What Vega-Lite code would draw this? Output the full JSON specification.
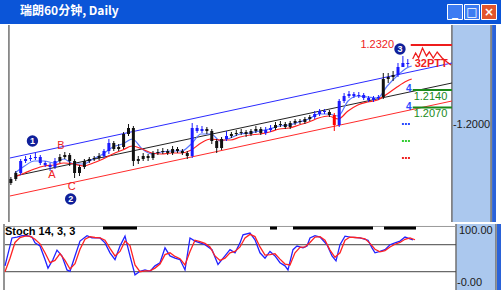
{
  "$schema": "https://vega.github.io/schema/vega-lite/v6.json",
  "padding": 0,
  "spacing": 0,
  "background": "white",
  "config": {"view": {"stroke": null}, "concat": {"spacing": 0}},
  "resolve": {"scale": {"x": "independent", "y": "independent", "color": "independent"}},
  "datasets": {
    "cd": [
      {"t":6,"o":1.1768,"c":1.1784,"h":1.1792,"l":1.1760,"k":"k"},
      {"t":11,"o":1.1784,"c":1.1808,"h":1.1816,"l":1.1776,"k":"k"},
      {"t":16,"o":1.1808,"c":1.1856,"h":1.1864,"l":1.1800,"k":"b"},
      {"t":21,"o":1.1856,"c":1.1864,"h":1.1876,"l":1.1848,"k":"b"},
      {"t":26,"o":1.1864,"c":1.1868,"h":1.1880,"l":1.1856,"k":"b"},
      {"t":31,"o":1.1868,"c":1.1872,"h":1.1888,"l":1.1860,"k":"b"},
      {"t":36,"o":1.1872,"c":1.1848,"h":1.1880,"l":1.1840,"k":"b"},
      {"t":41,"o":1.1848,"c":1.1840,"h":1.1856,"l":1.1832,"k":"b"},
      {"t":46,"o":1.1840,"c":1.1832,"h":1.1848,"l":1.1816,"k":"b"},
      {"t":51,"o":1.1832,"c":1.1856,"h":1.1868,"l":1.1824,"k":"b"},
      {"t":56,"o":1.1856,"c":1.1872,"h":1.1884,"l":1.1848,"k":"k"},
      {"t":61,"o":1.1872,"c":1.1880,"h":1.1892,"l":1.1864,"k":"k"},
      {"t":66,"o":1.1880,"c":1.1856,"h":1.1888,"l":1.1836,"k":"k"},
      {"t":71,"o":1.1856,"c":1.1808,"h":1.1864,"l":1.1788,"k":"k"},
      {"t":76,"o":1.1808,"c":1.1832,"h":1.1840,"l":1.1796,"k":"k"},
      {"t":81,"o":1.1832,"c":1.1856,"h":1.1864,"l":1.1824,"k":"k"},
      {"t":86,"o":1.1856,"c":1.1864,"h":1.1872,"l":1.1848,"k":"k"},
      {"t":91,"o":1.1864,"c":1.1868,"h":1.1876,"l":1.1856,"k":"k"},
      {"t":96,"o":1.1868,"c":1.1876,"h":1.1888,"l":1.1860,"k":"k"},
      {"t":101,"o":1.1876,"c":1.1896,"h":1.1904,"l":1.1868,"k":"b"},
      {"t":106,"o":1.1896,"c":1.1928,"h":1.1944,"l":1.1884,"k":"b"},
      {"t":111,"o":1.1928,"c":1.1904,"h":1.1936,"l":1.1896,"k":"k"},
      {"t":116,"o":1.1904,"c":1.1912,"h":1.1924,"l":1.1896,"k":"k"},
      {"t":121,"o":1.1912,"c":1.1964,"h":1.1972,"l":1.1904,"k":"k"},
      {"t":126,"o":1.1964,"c":1.1988,"h":1.2004,"l":1.1956,"k":"k"},
      {"t":131,"o":1.1988,"c":1.1856,"h":1.1996,"l":1.1836,"k":"k"},
      {"t":136,"o":1.1856,"c":1.1864,"h":1.1876,"l":1.1844,"k":"k"},
      {"t":141,"o":1.1864,"c":1.1876,"h":1.1888,"l":1.1856,"k":"k"},
      {"t":146,"o":1.1876,"c":1.1868,"h":1.1884,"l":1.1856,"k":"k"},
      {"t":151,"o":1.1868,"c":1.1888,"h":1.1896,"l":1.1860,"k":"k"},
      {"t":156,"o":1.1888,"c":1.1892,"h":1.1904,"l":1.1880,"k":"k"},
      {"t":161,"o":1.1892,"c":1.1896,"h":1.1908,"l":1.1884,"k":"k"},
      {"t":166,"o":1.1896,"c":1.1888,"h":1.1904,"l":1.1880,"k":"k"},
      {"t":171,"o":1.1888,"c":1.1904,"h":1.1916,"l":1.1880,"k":"k"},
      {"t":176,"o":1.1904,"c":1.1896,"h":1.1912,"l":1.1888,"k":"k"},
      {"t":181,"o":1.1896,"c":1.1888,"h":1.1904,"l":1.1880,"k":"k"},
      {"t":186,"o":1.1888,"c":1.1876,"h":1.1896,"l":1.1864,"k":"k"},
      {"t":191,"o":1.1876,"c":1.1988,"h":1.2008,"l":1.1868,"k":"b"},
      {"t":196,"o":1.1988,"c":1.1976,"h":1.2000,"l":1.1968,"k":"b"},
      {"t":201,"o":1.1976,"c":1.1984,"h":1.1996,"l":1.1968,"k":"b"},
      {"t":206,"o":1.1984,"c":1.1976,"h":1.1992,"l":1.1964,"k":"k"},
      {"t":211,"o":1.1976,"c":1.1936,"h":1.1984,"l":1.1924,"k":"k"},
      {"t":216,"o":1.1936,"c":1.1908,"h":1.1944,"l":1.1888,"k":"k"},
      {"t":221,"o":1.1908,"c":1.1944,"h":1.1952,"l":1.1900,"k":"k"},
      {"t":226,"o":1.1944,"c":1.1956,"h":1.1976,"l":1.1936,"k":"b"},
      {"t":231,"o":1.1956,"c":1.1964,"h":1.1972,"l":1.1948,"k":"k"},
      {"t":236,"o":1.1964,"c":1.1968,"h":1.1980,"l":1.1956,"k":"k"},
      {"t":241,"o":1.1968,"c":1.1972,"h":1.1984,"l":1.1960,"k":"k"},
      {"t":246,"o":1.1972,"c":1.1964,"h":1.1980,"l":1.1952,"k":"k"},
      {"t":251,"o":1.1964,"c":1.1976,"h":1.1984,"l":1.1956,"k":"k"},
      {"t":256,"o":1.1976,"c":1.1984,"h":1.1996,"l":1.1968,"k":"k"},
      {"t":261,"o":1.1984,"c":1.1968,"h":1.1992,"l":1.1960,"k":"k"},
      {"t":266,"o":1.1968,"c":1.1980,"h":1.1992,"l":1.1960,"k":"b"},
      {"t":271,"o":1.1980,"c":1.1988,"h":1.2000,"l":1.1972,"k":"b"},
      {"t":276,"o":1.1988,"c":1.2000,"h":1.2012,"l":1.1980,"k":"k"},
      {"t":281,"o":1.2000,"c":1.2004,"h":1.2016,"l":1.1992,"k":"k"},
      {"t":286,"o":1.2004,"c":1.1992,"h":1.2012,"l":1.1984,"k":"k"},
      {"t":291,"o":1.1992,"c":1.2008,"h":1.2016,"l":1.1984,"k":"k"},
      {"t":296,"o":1.2008,"c":1.2016,"h":1.2024,"l":1.2000,"k":"k"},
      {"t":301,"o":1.2016,"c":1.2012,"h":1.2024,"l":1.2004,"k":"k"},
      {"t":306,"o":1.2012,"c":1.2024,"h":1.2032,"l":1.2004,"k":"k"},
      {"t":311,"o":1.2024,"c":1.2032,"h":1.2040,"l":1.2016,"k":"k"},
      {"t":316,"o":1.2032,"c":1.2044,"h":1.2056,"l":1.2024,"k":"b"},
      {"t":321,"o":1.2044,"c":1.2056,"h":1.2064,"l":1.2036,"k":"b"},
      {"t":326,"o":1.2056,"c":1.2052,"h":1.2064,"l":1.2044,"k":"b"},
      {"t":331,"o":1.2052,"c":1.2040,"h":1.2060,"l":1.2032,"k":"k"},
      {"t":336,"o":1.2040,"c":1.2000,"h":1.2048,"l":1.1976,"k":"r"},
      {"t":341,"o":1.2000,"c":1.2096,"h":1.2104,"l":1.1992,"k":"b"},
      {"t":346,"o":1.2096,"c":1.2116,"h":1.2128,"l":1.2088,"k":"b"},
      {"t":351,"o":1.2116,"c":1.2124,"h":1.2136,"l":1.2108,"k":"b"},
      {"t":356,"o":1.2124,"c":1.2116,"h":1.2132,"l":1.2108,"k":"b"},
      {"t":361,"o":1.2116,"c":1.2120,"h":1.2132,"l":1.2108,"k":"b"},
      {"t":366,"o":1.2120,"c":1.2108,"h":1.2128,"l":1.2100,"k":"b"},
      {"t":371,"o":1.2108,"c":1.2100,"h":1.2116,"l":1.2092,"k":"b"},
      {"t":376,"o":1.2100,"c":1.2108,"h":1.2116,"l":1.2092,"k":"b"},
      {"t":381,"o":1.2108,"c":1.2112,"h":1.2120,"l":1.2100,"k":"b"},
      {"t":386,"o":1.2112,"c":1.2184,"h":1.2208,"l":1.2104,"k":"k"},
      {"t":391,"o":1.2184,"c":1.2192,"h":1.2208,"l":1.2168,"k":"k"},
      {"t":396,"o":1.2192,"c":1.2200,"h":1.2216,"l":1.2176,"k":"k"},
      {"t":401,"o":1.2200,"c":1.2232,"h":1.2248,"l":1.2192,"k":"b"},
      {"t":406,"o":1.2232,"c":1.2248,"h":1.2276,"l":1.2232,"k":"b"},
      {"t":411,"o":1.2248,"c":1.2244,"h":1.2264,"l":1.2232,"k":"b"}
    ],
    "ma": [
      {"s":"f","t":10,"p":1.1808},{"s":"f","t":20,"p":1.1836},{"s":"f","t":30,"p":1.1856},{"s":"f","t":40,"p":1.1856},{"s":"f","t":50,"p":1.1848},{"s":"f","t":60,"p":1.1864},{"s":"f","t":70,"p":1.1844},{"s":"f","t":80,"p":1.1844},{"s":"f","t":90,"p":1.1864},{"s":"f","t":100,"p":1.1884},{"s":"f","t":110,"p":1.1912},{"s":"f","t":120,"p":1.1924},{"s":"f","t":130,"p":1.1944},{"s":"f","t":140,"p":1.1904},{"s":"f","t":150,"p":1.1884},{"s":"f","t":160,"p":1.1892},{"s":"f","t":170,"p":1.1896},{"s":"f","t":180,"p":1.1896},{"s":"f","t":190,"p":1.1924},{"s":"f","t":200,"p":1.1964},{"s":"f","t":210,"p":1.1964},{"s":"f","t":220,"p":1.1936},{"s":"f","t":230,"p":1.1948},{"s":"f","t":240,"p":1.1964},{"s":"f","t":250,"p":1.1968},{"s":"f","t":260,"p":1.1976},{"s":"f","t":270,"p":1.1984},{"s":"f","t":280,"p":1.1996},{"s":"f","t":290,"p":1.2000},{"s":"f","t":300,"p":1.2012},{"s":"f","t":310,"p":1.2024},{"s":"f","t":320,"p":1.2044},{"s":"f","t":330,"p":1.2044},{"s":"f","t":340,"p":1.2036},{"s":"f","t":350,"p":1.2096},{"s":"f","t":360,"p":1.2116},{"s":"f","t":370,"p":1.2112},{"s":"f","t":380,"p":1.2108},{"s":"f","t":390,"p":1.2156},{"s":"f","t":400,"p":1.2196},{"s":"f","t":410,"p":1.2228},{"s":"f","t":415,"p":1.2236},
      {"s":"s","t":10,"p":1.1792},{"s":"s","t":20,"p":1.1808},{"s":"s","t":30,"p":1.1824},{"s":"s","t":40,"p":1.1836},{"s":"s","t":50,"p":1.1840},{"s":"s","t":60,"p":1.1848},{"s":"s","t":70,"p":1.1844},{"s":"s","t":80,"p":1.1836},{"s":"s","t":90,"p":1.1848},{"s":"s","t":100,"p":1.1864},{"s":"s","t":110,"p":1.1884},{"s":"s","t":120,"p":1.1900},{"s":"s","t":130,"p":1.1916},{"s":"s","t":140,"p":1.1904},{"s":"s","t":150,"p":1.1888},{"s":"s","t":160,"p":1.1884},{"s":"s","t":170,"p":1.1888},{"s":"s","t":180,"p":1.1888},{"s":"s","t":190,"p":1.1900},{"s":"s","t":200,"p":1.1928},{"s":"s","t":210,"p":1.1944},{"s":"s","t":220,"p":1.1940},{"s":"s","t":230,"p":1.1940},{"s":"s","t":240,"p":1.1952},{"s":"s","t":250,"p":1.1960},{"s":"s","t":260,"p":1.1964},{"s":"s","t":270,"p":1.1972},{"s":"s","t":280,"p":1.1984},{"s":"s","t":290,"p":1.1988},{"s":"s","t":300,"p":1.2000},{"s":"s","t":310,"p":1.2012},{"s":"s","t":320,"p":1.2028},{"s":"s","t":330,"p":1.2036},{"s":"s","t":340,"p":1.2024},{"s":"s","t":350,"p":1.2056},{"s":"s","t":360,"p":1.2080},{"s":"s","t":370,"p":1.2092},{"s":"s","t":380,"p":1.2100},{"s":"s","t":390,"p":1.2124},{"s":"s","t":400,"p":1.2152},{"s":"s","t":410,"p":1.2176},{"s":"s","t":415,"p":1.2184}
    ],
    "ln": [
      {"g":"bch","t":5,"p":1.1868},{"g":"bch","t":456,"p":1.2248},
      {"g":"rch","t":5,"p":1.1716},{"g":"rch","t":456,"p":1.2096},
      {"g":"kch","t":10,"p":1.1796},{"g":"kch","t":456,"p":1.2168}
    ],
    "lv": [
      {"g":"r","a":414,"b":456,"p":1.232},
      {"g":"g","a":416,"b":456,"p":1.214},
      {"g":"g","a":416,"b":456,"p":1.207}
    ],
    "stk": [
      {"s":"k","t":5,"v":33},{"s":"k","t":12,"v":95},{"s":"k","t":17,"v":97},{"s":"k","t":22,"v":100},{"s":"k","t":27,"v":100},{"s":"k","t":32,"v":97},{"s":"k","t":35,"v":84},{"s":"k","t":40,"v":77},{"s":"k","t":45,"v":47},{"s":"k","t":48,"v":28},{"s":"k","t":53,"v":47},{"s":"k","t":57,"v":68},{"s":"k","t":62,"v":55},{"s":"k","t":67,"v":24},{"s":"k","t":70,"v":21},{"s":"k","t":75,"v":55},{"s":"k","t":80,"v":88},{"s":"k","t":87,"v":100},{"s":"k","t":92,"v":95},{"s":"k","t":100,"v":95},{"s":"k","t":105,"v":84},{"s":"k","t":110,"v":62},{"s":"k","t":115,"v":47},{"s":"k","t":120,"v":77},{"s":"k","t":125,"v":99},{"s":"k","t":130,"v":55},{"s":"k","t":135,"v":13},{"s":"k","t":140,"v":21},{"s":"k","t":145,"v":24},{"s":"k","t":150,"v":21},{"s":"k","t":155,"v":33},{"s":"k","t":160,"v":40},{"s":"k","t":165,"v":73},{"s":"k","t":170,"v":55},{"s":"k","t":175,"v":50},{"s":"k","t":180,"v":47},{"s":"k","t":185,"v":24},{"s":"k","t":190,"v":95},{"s":"k","t":195,"v":88},{"s":"k","t":205,"v":80},{"s":"k","t":212,"v":69},{"s":"k","t":218,"v":36},{"s":"k","t":225,"v":55},{"s":"k","t":230,"v":69},{"s":"k","t":235,"v":62},{"s":"k","t":240,"v":84},{"s":"k","t":243,"v":102},{"s":"k","t":250,"v":106},{"s":"k","t":255,"v":91},{"s":"k","t":260,"v":62},{"s":"k","t":265,"v":50},{"s":"k","t":270,"v":65},{"s":"k","t":275,"v":55},{"s":"k","t":280,"v":40},{"s":"k","t":285,"v":33},{"s":"k","t":288,"v":24},{"s":"k","t":293,"v":69},{"s":"k","t":297,"v":77},{"s":"k","t":303,"v":73},{"s":"k","t":307,"v":77},{"s":"k","t":310,"v":95},{"s":"k","t":315,"v":100},{"s":"k","t":320,"v":97},{"s":"k","t":327,"v":80},{"s":"k","t":332,"v":55},{"s":"k","t":336,"v":44},{"s":"k","t":340,"v":80},{"s":"k","t":345,"v":99},{"s":"k","t":350,"v":97},{"s":"k","t":360,"v":95},{"s":"k","t":368,"v":90},{"s":"k","t":372,"v":73},{"s":"k","t":375,"v":62},{"s":"k","t":380,"v":65},{"s":"k","t":385,"v":69},{"s":"k","t":390,"v":80},{"s":"k","t":395,"v":84},{"s":"k","t":400,"v":88},{"s":"k","t":405,"v":97},{"s":"k","t":410,"v":93},{"s":"k","t":413,"v":91},
      {"s":"d","t":5,"v":20},{"s":"d","t":10,"v":50},{"s":"d","t":15,"v":85},{"s":"d","t":20,"v":96},{"s":"d","t":25,"v":99},{"s":"d","t":30,"v":99},{"s":"d","t":35,"v":92},{"s":"d","t":40,"v":82},{"s":"d","t":45,"v":62},{"s":"d","t":50,"v":40},{"s":"d","t":55,"v":45},{"s":"d","t":60,"v":60},{"s":"d","t":65,"v":45},{"s":"d","t":70,"v":26},{"s":"d","t":75,"v":38},{"s":"d","t":80,"v":70},{"s":"d","t":85,"v":92},{"s":"d","t":90,"v":98},{"s":"d","t":95,"v":96},{"s":"d","t":100,"v":95},{"s":"d","t":105,"v":90},{"s":"d","t":110,"v":72},{"s":"d","t":115,"v":55},{"s":"d","t":120,"v":65},{"s":"d","t":125,"v":88},{"s":"d","t":130,"v":78},{"s":"d","t":135,"v":35},{"s":"d","t":140,"v":20},{"s":"d","t":145,"v":22},{"s":"d","t":150,"v":22},{"s":"d","t":155,"v":28},{"s":"d","t":160,"v":37},{"s":"d","t":165,"v":58},{"s":"d","t":170,"v":62},{"s":"d","t":175,"v":54},{"s":"d","t":180,"v":49},{"s":"d","t":185,"v":35},{"s":"d","t":190,"v":65},{"s":"d","t":195,"v":90},{"s":"d","t":200,"v":87},{"s":"d","t":205,"v":83},{"s":"d","t":210,"v":75},{"s":"d","t":215,"v":55},{"s":"d","t":220,"v":45},{"s":"d","t":225,"v":50},{"s":"d","t":230,"v":62},{"s":"d","t":235,"v":65},{"s":"d","t":240,"v":75},{"s":"d","t":245,"v":95},{"s":"d","t":250,"v":103},{"s":"d","t":255,"v":98},{"s":"d","t":260,"v":75},{"s":"d","t":265,"v":57},{"s":"d","t":270,"v":58},{"s":"d","t":275,"v":60},{"s":"d","t":280,"v":48},{"s":"d","t":285,"v":37},{"s":"d","t":290,"v":35},{"s":"d","t":295,"v":62},{"s":"d","t":300,"v":74},{"s":"d","t":305,"v":75},{"s":"d","t":310,"v":85},{"s":"d","t":315,"v":97},{"s":"d","t":320,"v":98},{"s":"d","t":325,"v":90},{"s":"d","t":330,"v":68},{"s":"d","t":335,"v":52},{"s":"d","t":340,"v":62},{"s":"d","t":345,"v":90},{"s":"d","t":350,"v":97},{"s":"d","t":355,"v":96},{"s":"d","t":360,"v":95},{"s":"d","t":365,"v":93},{"s":"d","t":370,"v":83},{"s":"d","t":375,"v":70},{"s":"d","t":380,"v":64},{"s":"d","t":385,"v":67},{"s":"d","t":390,"v":75},{"s":"d","t":395,"v":81},{"s":"d","t":400,"v":85},{"s":"d","t":405,"v":92},{"s":"d","t":410,"v":95},{"s":"d","t":415,"v":91}
    ]
  },
  "vconcat": [
    {
      "width": 501, "height": 24,
      "view": {"fill": "#0b55d8", "stroke": null},
      "title": {"text": "瑞朗60分钟, Daily", "anchor": "start", "offset": -18, "dx": 20, "color": "white", "fontSize": 12, "fontWeight": "bold", "font": "Noto Sans CJK SC"},
      "data": {"values": [{"btn": "min", "g": "_"}, {"btn": "max", "g": "□"}, {"btn": "close", "g": "×"}]},
      "resolve": {"scale": {"color": "independent"}},
      "layer": [
        {"mark": {"type": "point", "shape": "square", "filled": true, "size": 225, "stroke": "white", "strokeWidth": 1, "opacity": 1},
         "encoding": {
           "x": {"field": "btn", "type": "nominal", "scale": {"domain": ["min", "max", "close"], "range": [455, 489], "padding": 0}, "axis": null},
           "color": {"field": "btn", "type": "nominal", "scale": {"domain": ["min", "max", "close"], "range": ["#3d7cf2", "#3d7cf2", "#e2552c"]}, "legend": null}}},
        {"mark": {"type": "text", "color": "white", "fontWeight": "bold", "fontSize": 12, "font": "DejaVu Sans"},
         "encoding": {
           "x": {"field": "btn", "type": "nominal", "scale": {"domain": ["min", "max", "close"], "range": [455, 489], "padding": 0}, "axis": null},
           "text": {"field": "g"}}}
      ]
    },
    {
      "width": 501, "height": 197,
      "resolve": {"scale": {"color": "independent"}},
      "layer": [
        {"data": {"values": [{"a": 456, "b": 496}]}, "mark": {"type": "rect", "color": "#abc8ee"},
         "encoding": {"x": {"field": "a", "type": "quantitative", "scale": {"domain": [0, 501], "nice": false, "zero": false}, "axis": null}, "x2": {"field": "b"}}},
        {"data": {"values": [{"a": 497, "b": 501}]}, "mark": {"type": "rect", "color": "#2a62d8"},
         "encoding": {"x": {"field": "a", "type": "quantitative", "scale": {"domain": [0, 501], "nice": false, "zero": false}, "axis": null}, "x2": {"field": "b"}}},
        {"data": {"values": [{"a": 4}, {"a": 456}, {"a": 496}]}, "mark": {"type": "rule", "color": "#707070", "strokeWidth": 1.5},
         "encoding": {"x": {"field": "a", "type": "quantitative", "scale": {"domain": [0, 501], "nice": false, "zero": false}, "axis": null}}},
        {"data": {"name": "ln"}, "mark": {"type": "line", "strokeWidth": 1},
         "encoding": {
           "x": {"field": "t", "type": "quantitative", "scale": {"domain": [0, 501], "nice": false, "zero": false}, "axis": null},
           "y": {"field": "p", "type": "quantitative", "scale": {"domain": [1.1612, 1.24], "nice": false, "zero": false}, "axis": null},
           "color": {"field": "g", "type": "nominal", "scale": {"domain": ["bch", "rch", "kch"], "range": ["#2b2bff", "#ff2b2b", "#222222"]}, "legend": null}}},
        {"data": {"name": "ma"}, "mark": {"type": "line", "strokeWidth": 1.2, "interpolate": "monotone"},
         "encoding": {
           "x": {"field": "t", "type": "quantitative", "scale": {"domain": [0, 501], "nice": false, "zero": false}, "axis": null},
           "y": {"field": "p", "type": "quantitative", "scale": {"domain": [1.1612, 1.24], "nice": false, "zero": false}, "axis": null},
           "color": {"field": "s", "type": "nominal", "scale": {"domain": ["f", "s"], "range": ["#5a78ff", "#ff2020"]}, "legend": null}}},
        {"data": {"name": "cd"}, "mark": {"type": "rule", "strokeWidth": 1},
         "encoding": {
           "x": {"field": "t", "type": "quantitative", "scale": {"domain": [0, 501], "nice": false, "zero": false}, "axis": null},
           "y": {"field": "l", "type": "quantitative", "scale": {"domain": [1.1612, 1.24], "nice": false, "zero": false}, "axis": null},
           "y2": {"field": "h"},
           "color": {"field": "k", "type": "nominal", "scale": {"domain": ["k", "b", "r"], "range": ["#111111", "#1a1aff", "#ff0000"]}, "legend": null}}},
        {"data": {"name": "cd"}, "mark": {"type": "bar", "size": 3},
         "encoding": {
           "x": {"field": "t", "type": "quantitative", "scale": {"domain": [0, 501], "nice": false, "zero": false}, "axis": null},
           "y": {"field": "o", "type": "quantitative", "scale": {"domain": [1.1612, 1.24], "nice": false, "zero": false}, "axis": null},
           "y2": {"field": "c"},
           "color": {"field": "k", "type": "nominal", "scale": {"domain": ["k", "b", "r"], "range": ["#111111", "#1a1aff", "#ff0000"]}, "legend": null}}},
        {"data": {"name": "lv"}, "mark": {"type": "rule", "strokeWidth": 2},
         "encoding": {
           "x": {"field": "a", "type": "quantitative", "scale": {"domain": [0, 501], "nice": false, "zero": false}, "axis": null},
           "x2": {"field": "b"},
           "y": {"field": "p", "type": "quantitative", "scale": {"domain": [1.1612, 1.24], "nice": false, "zero": false}, "axis": null},
           "color": {"field": "g", "type": "nominal", "scale": {"domain": ["r", "g"], "range": ["#ee1c1c", "#1a8a1a"]}, "legend": null}}},
        {"data": {"values": [{"g": "b", "a": 405, "b": 414, "p": 1.2004}, {"g": "g", "a": 405, "b": 414, "p": 1.1936}, {"g": "r", "a": 405, "b": 414, "p": 1.1868}]},
         "mark": {"type": "rule", "strokeWidth": 2, "strokeDash": [2, 1]},
         "encoding": {
           "x": {"field": "a", "type": "quantitative", "scale": {"domain": [0, 501], "nice": false, "zero": false}, "axis": null},
           "x2": {"field": "b"},
           "y": {"field": "p", "type": "quantitative", "scale": {"domain": [1.1612, 1.24], "nice": false, "zero": false}, "axis": null},
           "color": {"field": "g", "type": "nominal", "scale": {"domain": ["b", "g", "r"], "range": ["#2b4bff", "#33cc33", "#ee2222"]}, "legend": null}}},
        {"data": {"values": [{"t": 416, "p": 1.2264}, {"t": 419, "p": 1.2288}, {"t": 422, "p": 1.2268}, {"t": 426, "p": 1.2308}, {"t": 430, "p": 1.2276}, {"t": 433, "p": 1.2292}, {"t": 437, "p": 1.2268}, {"t": 441, "p": 1.2292}, {"t": 446, "p": 1.2268}, {"t": 451, "p": 1.2252}, {"t": 455, "p": 1.224}]},
         "mark": {"type": "line", "color": "#ee1c1c", "strokeWidth": 1.3},
         "encoding": {
           "x": {"field": "t", "type": "quantitative", "scale": {"domain": [0, 501], "nice": false, "zero": false}, "axis": null},
           "y": {"field": "p", "type": "quantitative", "scale": {"domain": [1.1612, 1.24], "nice": false, "zero": false}, "axis": null}}},
        {"data": {"values": [{"t": 28, "p": 1.1936, "s": "1"}, {"t": 67, "p": 1.1704, "s": "2"}, {"t": 403, "p": 1.2304, "s": "3"}]},
         "layer": [
           {"mark": {"type": "point", "shape": "circle", "filled": true, "size": 130, "color": "#10209a", "opacity": 1},
            "encoding": {
              "x": {"field": "t", "type": "quantitative", "scale": {"domain": [0, 501], "nice": false, "zero": false}, "axis": null},
              "y": {"field": "p", "type": "quantitative", "scale": {"domain": [1.1612, 1.24], "nice": false, "zero": false}, "axis": null}}},
           {"mark": {"type": "text", "color": "white", "fontWeight": "bold", "fontSize": 9, "font": "Liberation Sans"},
            "encoding": {
              "x": {"field": "t", "type": "quantitative", "scale": {"domain": [0, 501], "nice": false, "zero": false}, "axis": null},
              "y": {"field": "p", "type": "quantitative", "scale": {"domain": [1.1612, 1.24], "nice": false, "zero": false}, "axis": null},
              "text": {"field": "s"}}}
         ]},
        {"data": {"values": [{"t": 57, "p": 1.1916, "s": "B"}, {"t": 48, "p": 1.18, "s": "A"}, {"t": 68, "p": 1.1752, "s": "C"}]},
         "mark": {"type": "text", "color": "#ee2222", "fontSize": 11, "font": "Liberation Sans"},
         "encoding": {
           "x": {"field": "t", "type": "quantitative", "scale": {"domain": [0, 501], "nice": false, "zero": false}, "axis": null},
           "y": {"field": "p", "type": "quantitative", "scale": {"domain": [1.1612, 1.24], "nice": false, "zero": false}, "axis": null},
           "text": {"field": "s"}}},
        {"data": {"values": [{"t": 397, "p": 1.232, "s": "1.2320"}]},
         "mark": {"type": "text", "color": "#ee1c1c", "fontSize": 11, "font": "Liberation Sans", "align": "right"},
         "encoding": {
           "x": {"field": "t", "type": "quantitative", "scale": {"domain": [0, 501], "nice": false, "zero": false}, "axis": null},
           "y": {"field": "p", "type": "quantitative", "scale": {"domain": [1.1612, 1.24], "nice": false, "zero": false}, "axis": null},
           "text": {"field": "s"}}},
        {"data": {"values": [{"t": 418, "p": 1.2244, "s": "32PTT"}]},
         "mark": {"type": "text", "color": "#ee1c1c", "fontSize": 11, "fontWeight": "bold", "font": "Liberation Sans", "align": "left"},
         "encoding": {
           "x": {"field": "t", "type": "quantitative", "scale": {"domain": [0, 501], "nice": false, "zero": false}, "axis": null},
           "y": {"field": "p", "type": "quantitative", "scale": {"domain": [1.1612, 1.24], "nice": false, "zero": false}, "axis": null},
           "text": {"field": "s"}}},
        {"data": {"values": [{"t": 417, "p": 1.2112, "s": "1.2140"}, {"t": 417, "p": 1.2044, "s": "1.2070"}]},
         "mark": {"type": "text", "color": "#1a8a1a", "fontSize": 11, "font": "Liberation Sans", "align": "left"},
         "encoding": {
           "x": {"field": "t", "type": "quantitative", "scale": {"domain": [0, 501], "nice": false, "zero": false}, "axis": null},
           "y": {"field": "p", "type": "quantitative", "scale": {"domain": [1.1612, 1.24], "nice": false, "zero": false}, "axis": null},
           "text": {"field": "s"}}},
        {"data": {"values": [{"t": 412, "p": 1.2144, "s": "4"}, {"t": 412, "p": 1.2072, "s": "4"}]},
         "mark": {"type": "text", "color": "#2b4bff", "fontSize": 10, "fontWeight": "bold", "font": "Liberation Sans"},
         "encoding": {
           "x": {"field": "t", "type": "quantitative", "scale": {"domain": [0, 501], "nice": false, "zero": false}, "axis": null},
           "y": {"field": "p", "type": "quantitative", "scale": {"domain": [1.1612, 1.24], "nice": false, "zero": false}, "axis": null},
           "text": {"field": "s"}}},
        {"data": {"values": [{"t": 457, "p": 1.2, "s": "-1.2000"}]},
         "mark": {"type": "text", "color": "#1a1a1a", "fontSize": 11, "font": "Liberation Sans", "align": "left"},
         "encoding": {
           "x": {"field": "t", "type": "quantitative", "scale": {"domain": [0, 501], "nice": false, "zero": false}, "axis": null},
           "y": {"field": "p", "type": "quantitative", "scale": {"domain": [1.1612, 1.24], "nice": false, "zero": false}, "axis": null},
           "text": {"field": "s"}}}
      ]
    },
    {
      "width": 501, "height": 69,
      "resolve": {"scale": {"color": "independent"}},
      "layer": [
        {"data": {"values": [{"a": 456, "b": 496}]}, "mark": {"type": "rect", "color": "#abc8ee"},
         "encoding": {"x": {"field": "a", "type": "quantitative", "scale": {"domain": [0, 501], "nice": false, "zero": false}, "axis": null}, "x2": {"field": "b"}}},
        {"data": {"values": [{"a": 497, "b": 501}]}, "mark": {"type": "rect", "color": "#2a62d8"},
         "encoding": {"x": {"field": "a", "type": "quantitative", "scale": {"domain": [0, 501], "nice": false, "zero": false}, "axis": null}, "x2": {"field": "b"}}},
        {"data": {"values": [{"a": 4}, {"a": 456}, {"a": 496}]}, "mark": {"type": "rule", "color": "#707070", "strokeWidth": 1.5},
         "encoding": {"x": {"field": "a", "type": "quantitative", "scale": {"domain": [0, 501], "nice": false, "zero": false}, "axis": null}}},
        {"data": {"values": [{"v": 120.5, "g": "b"}, {"v": 80, "g": "m"}, {"v": 20, "g": "m"}]},
         "mark": {"type": "rule", "strokeWidth": 1},
         "encoding": {
           "x": {"datum": 5, "type": "quantitative", "scale": {"domain": [0, 501], "nice": false, "zero": false}, "axis": null},
           "x2": {"datum": 456},
           "y": {"field": "v", "type": "quantitative", "scale": {"domain": [-27.3, 126], "nice": false, "zero": false}, "axis": null},
           "color": {"field": "g", "type": "nominal", "scale": {"domain": ["b", "m"], "range": ["#9a9a9a", "#444444"]}, "legend": null}}},
        {"data": {"values": [{"a": 103, "b": 137}, {"a": 270, "b": 277}, {"a": 293, "b": 373}, {"a": 384, "b": 416}]},
         "mark": {"type": "rule", "strokeWidth": 3, "color": "#000000"},
         "encoding": {
           "x": {"field": "a", "type": "quantitative", "scale": {"domain": [0, 501], "nice": false, "zero": false}, "axis": null},
           "x2": {"field": "b"},
           "y": {"datum": 117, "type": "quantitative", "scale": {"domain": [-27.3, 126], "nice": false, "zero": false}, "axis": null}}},
        {"data": {"name": "stk"}, "mark": {"type": "line", "strokeWidth": 1.3},
         "encoding": {
           "x": {"field": "t", "type": "quantitative", "scale": {"domain": [0, 501], "nice": false, "zero": false}, "axis": null},
           "y": {"field": "v", "type": "quantitative", "scale": {"domain": [-27.3, 126], "nice": false, "zero": false}, "axis": null},
           "color": {"field": "s", "type": "nominal", "scale": {"domain": ["d", "k"], "range": ["#ff2222", "#2222ff"]}, "legend": null}}},
        {"data": {"values": [{"t": 5, "v": 108, "s": "Stoch 14, 3, 3"}]},
         "mark": {"type": "text", "color": "#000000", "fontSize": 11, "fontWeight": "bold", "font": "Liberation Sans", "align": "left"},
         "encoding": {
           "x": {"field": "t", "type": "quantitative", "scale": {"domain": [0, 501], "nice": false, "zero": false}, "axis": null},
           "y": {"field": "v", "type": "quantitative", "scale": {"domain": [-27.3, 126], "nice": false, "zero": false}, "axis": null},
           "text": {"field": "s"}}},
        {"data": {"values": [{"t": 459, "v": 110, "s": "100.00"}, {"t": 457, "v": -5, "s": "-0.00"}]},
         "mark": {"type": "text", "color": "#1a1a1a", "fontSize": 11, "font": "Liberation Sans", "align": "left"},
         "encoding": {
           "x": {"field": "t", "type": "quantitative", "scale": {"domain": [0, 501], "nice": false, "zero": false}, "axis": null},
           "y": {"field": "v", "type": "quantitative", "scale": {"domain": [-27.3, 126], "nice": false, "zero": false}, "axis": null},
           "text": {"field": "s"}}}
      ]
    }
  ]
}
